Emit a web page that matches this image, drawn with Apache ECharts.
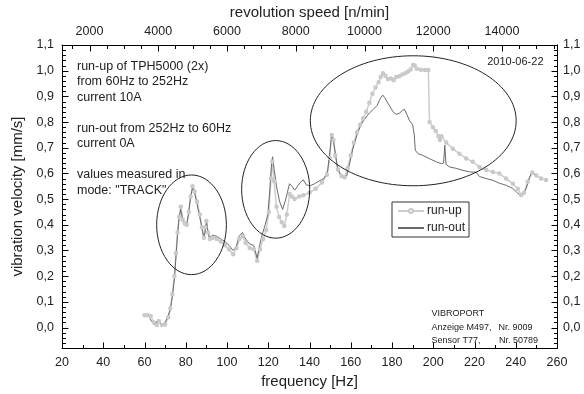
<!DOCTYPE html>
<html><head><meta charset="utf-8">
<script src="https://cdn.jsdelivr.net/npm/echarts@6/dist/echarts.min.js"></script>
<style>html,body{margin:0;padding:0;background:#fff}#c{width:584px;height:394px}</style>
</head><body><div id="c"></div>
<script>
// ---- data ----
const runUpHz = [60,61.5,63,64.5,66,67,68.5,70,71.5,72.5,73.5,74.5,75.3,76,76.8,77.6,78.5,79.5,80.5,81.5,82.4,83.3,84.3,85.5,86.8,87.8,88.8,89.5,90,90.8,91.7,93,95,97,99,101,103,104.6,106,107.6,109,111,113,114.6,116,117.5,119,120.3,121.3,122,122.8,124,125.3,126.5,127.8,129,130.4,131.5,132.8,135,137,140,143,146,148.5,149.8,150.8,151.6,152.5,153.8,155.5,157,158.5,160,161.5,163,164.5,166,167.5,169,170.5,172,173.5,174.5,175.6,176.8,178,179.5,180.8,182,183.5,185,186.5,187.8,189,190.2,191,192,194,196,197.6,198.2,199.8,201.2,202.5,203.2,204,206.3,209.5,212.7,216,219.2,222.4,225.7,228.9,232,235.3,238.6,241,242.6,244,245.8,248,250,252.3,254.7];
const runUpVal = [0.048,0.048,0.045,0.02,0.01,0.025,0.01,0.012,0.04,0.075,0.13,0.2,0.29,0.37,0.43,0.47,0.42,0.405,0.40,0.45,0.51,0.55,0.53,0.49,0.44,0.39,0.35,0.39,0.415,0.37,0.345,0.35,0.345,0.335,0.32,0.305,0.285,0.31,0.345,0.355,0.33,0.31,0.305,0.26,0.305,0.345,0.38,0.45,0.58,0.645,0.57,0.47,0.43,0.41,0.395,0.44,0.52,0.51,0.50,0.51,0.515,0.525,0.54,0.565,0.595,0.66,0.75,0.73,0.67,0.615,0.59,0.585,0.62,0.67,0.72,0.76,0.79,0.815,0.84,0.875,0.91,0.935,0.955,0.975,0.99,0.98,0.968,0.97,0.963,0.975,0.978,0.985,0.99,0.997,1.005,1.022,1.02,1.008,1.004,1.003,1.003,0.80,0.78,0.765,0.745,0.73,0.745,0.72,0.696,0.677,0.658,0.645,0.625,0.613,0.606,0.60,0.58,0.56,0.54,0.516,0.525,0.568,0.604,0.592,0.58,0.574];
const runOutHz = [62.5,64,65,66.5,68,69.5,71,72.5,73.5,74.5,75.3,76,76.7,77.5,78.3,79.2,80.4,81.3,82.2,83.3,84.4,85.5,86.8,87.8,88.8,89.5,90.1,90.8,91.5,93,95,97,99,101,103,104.5,105.8,107.5,109,111,113,114.6,115.8,117,118.5,119.8,120.8,121.6,122.1,122.8,124,125.5,127,128.5,130.3,131.5,132.8,134.2,135.5,137,138.5,140.5,142.5,144.5,147,148.8,149.8,150.8,151.6,152.5,153.6,155,156.5,158,159.5,161,163,165,167,169,171,172.8,174.2,175.5,176.5,177.5,179,180.5,182,183.7,185,186,187.2,188.5,190,190.8,191.3,192.6,195,198,201.5,204,205,205.6,206.2,208,211,214,217.5,220.8,222.4,225.7,229,232,235,238.5,241,243,245,246.7,248,250];
const runOutVal = [0.035,0.02,0.01,0.03,0.012,0.015,0.035,0.07,0.12,0.19,0.28,0.36,0.42,0.46,0.43,0.41,0.40,0.44,0.50,0.545,0.52,0.48,0.43,0.39,0.345,0.38,0.41,0.37,0.35,0.36,0.355,0.345,0.335,0.32,0.30,0.315,0.355,0.37,0.345,0.325,0.32,0.27,0.32,0.36,0.40,0.44,0.54,0.64,0.665,0.62,0.55,0.49,0.46,0.50,0.56,0.55,0.535,0.55,0.565,0.575,0.555,0.553,0.56,0.57,0.58,0.61,0.68,0.755,0.73,0.68,0.62,0.595,0.587,0.59,0.64,0.695,0.75,0.79,0.815,0.835,0.85,0.865,0.89,0.905,0.895,0.88,0.86,0.84,0.83,0.835,0.845,0.85,0.83,0.805,0.79,0.75,0.69,0.677,0.67,0.658,0.645,0.638,0.64,0.71,0.635,0.625,0.62,0.613,0.606,0.605,0.588,0.58,0.573,0.562,0.555,0.542,0.523,0.51,0.54,0.585,0.605,0.59];
const freqLabelValues = [20,40,60,80,100,120,140,160,180,200,220,240,260];
const yLabelValues = [0,0.1,0.2,0.3,0.4,0.5,0.6,0.7,0.8,0.9,1.0,1.1];
const rpmLabelValues = [2000,4000,6000,8000,10000,12000,14000];
// annotation ellipses in data units: [centre Hz, centre value, half-width Hz, half-height value]
const ellipseCentreHz = [82.8, 123.6, 190.3];
const ellipseCentreVal = [0.40, 0.538, 0.805];
const ellipseHalfHz = [16.9, 16.5, 49.9];
const ellipseHalfVal = [0.194, 0.19, 0.253];

const FONT = '"Liberation Sans", Arial, sans-serif';
const HZ_MIN = 20, HZ_MAX = 260, V_MIN = -0.08, V_MAX = 1.1;
const fmtComma = v => v.toFixed(1).replace('.', ',');
const fmtPlain = v => String(Math.round(v));

// tick specs in axis units: [hz, value, dxPixels, dyPixels] (inward ticks on all four sides)
const tickSpecs = [];
for (let hz = HZ_MIN; hz <= HZ_MAX; hz += 10) tickSpecs.push([hz, V_MIN, 0, -((hz % 20 === 0) ? 6 : 3.5)]);
for (let rpm = 1500; rpm < HZ_MAX * 60; rpm += 500) tickSpecs.push([rpm / 60, V_MAX, 0, (rpm % 2000 === 0) ? 6 : 3.5]);
for (let k = -4; k <= 55; k++) {
  const len = (k % 5 === 0) ? 6 : 3.5;
  tickSpecs.push([HZ_MIN, +(k * 0.02).toFixed(2), len, 0]);
  tickSpecs.push([HZ_MAX, +(k * 0.02).toFixed(2), -len, 0]);
}

const chart = echarts.init(document.getElementById('c'), null, {renderer: 'canvas'});
const axisLine = {show: true, onZero: false, lineStyle: {color: '#000', width: 1}};
const lbl = {fontSize: 12.5, color: '#222', fontFamily: FONT};

const option = {
  animation: false,
  backgroundColor: '#fff',
  grid: {left: 62, right: 27, top: 45, bottom: 38.5, containLabel: false},
  xAxis: [
    {type: 'value', position: 'bottom', min: HZ_MIN, max: HZ_MAX, interval: 20,
      axisLine, splitLine: {show: false}, axisTick: {show: false},
      axisLabel: Object.assign({margin: 8, customValues: freqLabelValues, formatter: fmtPlain}, lbl),
      name: 'frequency [Hz]', nameLocation: 'middle', nameGap: 23,
      nameTextStyle: {fontSize: 15, color: '#222', fontFamily: FONT}},
    {type: 'value', position: 'top', min: HZ_MIN * 60, max: HZ_MAX * 60,
      axisLine, splitLine: {show: false}, axisTick: {show: false},
      axisLabel: Object.assign({margin: 7, customValues: rpmLabelValues, formatter: fmtPlain}, lbl),
      name: 'revolution speed [n/min]', nameLocation: 'middle', nameGap: 24,
      nameTextStyle: {fontSize: 15, color: '#222', fontFamily: FONT}}
  ],
  yAxis: [
    {type: 'value', position: 'left', min: V_MIN, max: V_MAX,
      axisLine, splitLine: {show: false}, axisTick: {show: false},
      axisLabel: Object.assign({margin: 8, customValues: yLabelValues, formatter: fmtComma}, lbl),
      name: 'vibration velocity [mm/s]', nameLocation: 'middle', nameGap: 32,
      nameTextStyle: {fontSize: 15, color: '#222', fontFamily: FONT}},
    {type: 'value', position: 'right', min: V_MIN, max: V_MAX,
      axisLine, splitLine: {show: false}, axisTick: {show: false},
      axisLabel: Object.assign({margin: 6, customValues: yLabelValues, formatter: fmtComma}, lbl)}
  ],
  legend: {
    orient: 'vertical', left: 392, top: 202,
    data: [{name: 'run-up'}, {name: 'run-out', itemStyle: {opacity: 0}}],
    borderColor: '#333', borderWidth: 1, padding: [3, 4, 3, 5],
    itemWidth: 26, itemHeight: 5, itemGap: 5,
    textStyle: {fontSize: 12, color: '#222', fontFamily: FONT, padding: [0, 0, 0, -2]}
  },
  series: [
    {name: 'run-up', type: 'line', xAxisIndex: 0, yAxisIndex: 0,
      data: runUpHz.map((h, i) => [h, runUpVal[i]]),
      symbol: 'emptyCircle', symbolSize: 2.5, showSymbol: true,
      lineStyle: {color: '#cdcdcd', width: 1.5},
      itemStyle: {color: '#c8c8c8', borderColor: '#c8c8c8', borderWidth: 1}},
    {name: 'run-out', type: 'line', xAxisIndex: 0, yAxisIndex: 0,
      data: runOutHz.map((h, i) => [h, runOutVal[i]]),
      symbol: 'none', showSymbol: false,
      lineStyle: {color: '#6a6a6a', width: 1},
      itemStyle: {color: '#6a6a6a'}},
    {name: 'axis-ticks', type: 'custom', xAxisIndex: 0, yAxisIndex: 0,
      silent: true, clip: false, z: 20, data: tickSpecs,
      renderItem: (params, api) => {
        const p = api.coord([api.value(0), api.value(1)]);
        const x = Math.round(p[0]) + 0.5, y = Math.round(p[1]) + 0.5;
        return {type: 'line', shape: {x1: x, y1: y, x2: x + api.value(2), y2: y + api.value(3)},
          style: {stroke: '#000', lineWidth: 1}};
      }}
  ]
};
chart.setOption(option);

const graphics = [];
const P = (hz, v) => chart.convertToPixel({xAxisIndex: 0, yAxisIndex: 0}, [hz, v]);
const textLines = [
  ['run-up of TPH5000 (2x)', 77, 66.5],
  ['from 60Hz to 252Hz', 77, 82],
  ['current 10A', 77, 97.5],
  ['run-out from 252Hz to 60Hz', 77, 128.5],
  ['current 0A', 77, 144],
  ['values measured in', 77, 175],
  ['mode: "TRACK"', 77, 190.5]
];
textLines.forEach(t => graphics.push({type: 'text', silent: true, style: {text: t[0], x: t[1], y: t[2], fontSize: 12.5, fontFamily: FONT, fill: '#222', verticalAlign: 'middle'}}));
graphics.push({type: 'text', silent: true, style: {text: '2010-06-22', x: 543.5, y: 62, align: 'right', verticalAlign: 'middle', fontSize: 11, fontFamily: FONT, fill: '#222'}});
[['VIBROPORT', 431.5, 313.5], ['Anzeige M497,', 431.5, 327.5], ['Nr. 9009', 498.5, 327.5], ['Sensor T77,', 431.5, 340.5], ['Nr. 50789', 499, 340.5]].forEach(t => {
  graphics.push({type: 'text', silent: true, style: {text: t[0], x: t[1], y: t[2], verticalAlign: 'middle', fontSize: 9, fontFamily: FONT, fill: '#222'}});
});
for (let i = 0; i < ellipseCentreHz.length; i++) {
  const c = P(ellipseCentreHz[i], ellipseCentreVal[i]);
  const e = P(ellipseCentreHz[i] + ellipseHalfHz[i], ellipseCentreVal[i] + ellipseHalfVal[i]);
  graphics.push({type: 'ellipse', silent: true, z: 10,
    shape: {cx: c[0], cy: c[1], rx: Math.abs(e[0] - c[0]), ry: Math.abs(c[1] - e[1])},
    style: {fill: 'none', stroke: '#222', lineWidth: 1}});
}
chart.setOption({graphic: {elements: graphics}});
</script>
</body></html>
